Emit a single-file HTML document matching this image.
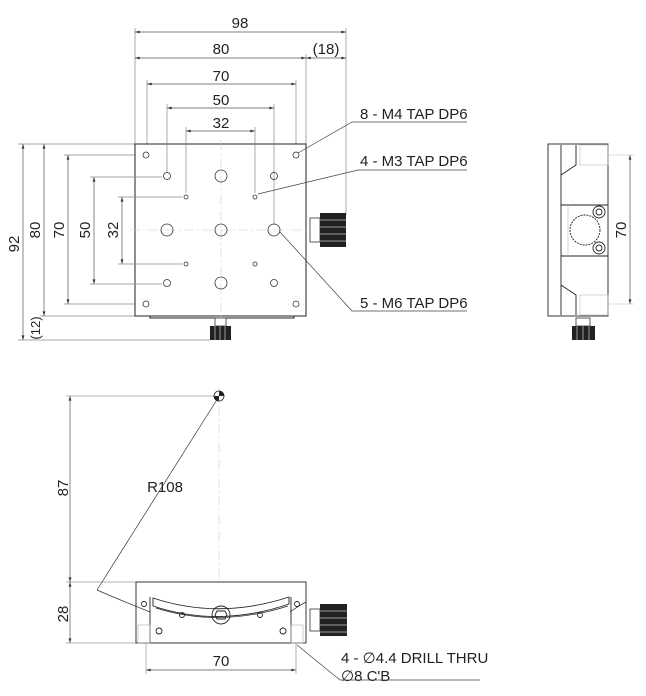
<!DOCTYPE html>
<html><head><meta charset="utf-8"><style>
html,body{margin:0;padding:0;background:#fff;}
svg{display:block;}
text{font-family:"Liberation Sans",sans-serif;fill:#222;}
</style></head><body>
<svg width="646" height="696" viewBox="0 0 646 696" xmlns="http://www.w3.org/2000/svg">
<defs>
<marker id="a" viewBox="0 0 10 6" refX="10" refY="3" markerWidth="7" markerHeight="4" orient="auto-start-reverse"><path d="M0,0L10,3L0,6z" fill="#333"/></marker>
</defs>
<g stroke="#888" stroke-width="0.7" fill="none">
<line x1="135" y1="28" x2="135" y2="144"/>
<line x1="346" y1="28" x2="346" y2="215"/>
<line x1="306" y1="54" x2="306" y2="144"/>
<line x1="147" y1="80" x2="147" y2="150"/>
<line x1="296" y1="80" x2="296" y2="150"/>
<line x1="18" y1="144" x2="135" y2="144"/>
<line x1="18" y1="340" x2="210" y2="340"/>
<line x1="40" y1="316" x2="135" y2="316"/>
<line x1="64" y1="155" x2="141" y2="155"/>
<line x1="64" y1="304" x2="141" y2="304"/>
</g>
<g stroke="#555" stroke-width="0.7" fill="none" marker-start="url(#a)" marker-end="url(#a)">
<line x1="135" y1="32" x2="346" y2="32"/>
<line x1="135" y1="58" x2="306" y2="58"/>
<line x1="306" y1="58" x2="346" y2="58"/>
<line x1="147" y1="84" x2="296" y2="84"/>
<line x1="167" y1="108" x2="274" y2="108"/>
<line x1="186" y1="131" x2="255" y2="131"/>
<line x1="23" y1="144" x2="23" y2="340"/>
<line x1="44" y1="144" x2="44" y2="316"/>
<line x1="68" y1="155" x2="68" y2="304"/>
<line x1="94" y1="177" x2="94" y2="284"/>
<line x1="122" y1="197" x2="122" y2="264"/>
<line x1="630" y1="155" x2="630" y2="304"/>
<line x1="70" y1="396" x2="70" y2="582"/>
<line x1="70" y1="582" x2="70" y2="643"/>
<line x1="146" y1="670" x2="296" y2="670"/>
</g>
<g font-size="15" text-anchor="middle">
<text x="240" y="28">98</text>
<text x="221" y="54">80</text>
<text x="326" y="54">(18)</text>
<text x="221" y="81">70</text>
<text x="221" y="105">50</text>
<text x="221" y="128">32</text>
<text transform="translate(19,244) rotate(-90)">92</text>
<text transform="translate(40,230) rotate(-90)">80</text>
<text transform="translate(64,230) rotate(-90)">70</text>
<text transform="translate(90,230) rotate(-90)">50</text>
<text transform="translate(118,230) rotate(-90)">32</text>
<text transform="translate(40,328) rotate(-90)" font-size="13">(12)</text>
<text transform="translate(626,230) rotate(-90)">70</text>
<text transform="translate(68,488) rotate(-90)">87</text>
<text transform="translate(68,614) rotate(-90)">28</text>
<text x="221" y="666">70</text>
<text x="165" y="492">R108</text>
</g>
<g font-size="15">
<text x="360" y="119">8 - M4 TAP DP6</text>
<text x="360" y="166">4 - M3 TAP DP6</text>
<text x="360" y="308">5 - M6 TAP DP6</text>
<text x="341" y="663">4 - ∅4.4 DRILL THRU</text>
<text x="341" y="681">∅8 C'B</text>
</g>
<!-- top view body -->
<g stroke="#222" stroke-width="1" fill="#fff">
<rect x="135" y="144" width="171" height="172"/>
<rect x="150" y="316" width="144" height="2"/>
</g>
<g stroke="#888" stroke-width="0.7" fill="none">
<line x1="167" y1="104" x2="167" y2="172"/>
<line x1="274" y1="104" x2="274" y2="225"/>
<line x1="186" y1="127" x2="186" y2="193"/>
<line x1="255" y1="127" x2="255" y2="193"/>
<line x1="90" y1="177" x2="162" y2="177"/>
<line x1="90" y1="284" x2="162" y2="284"/>
<line x1="118" y1="197" x2="182" y2="197"/>
<line x1="118" y1="264" x2="182" y2="264"/>
</g>
<g stroke="#ccc" stroke-width="0.6" stroke-dasharray="10,3,2,3" fill="none">
<line x1="221" y1="140" x2="221" y2="322"/>
<line x1="130" y1="230" x2="312" y2="230"/>
<line x1="219" y1="388" x2="219" y2="582"/>
</g>
<g stroke="#444" stroke-width="0.7" fill="none">
<polyline points="467,122 352,122 298,153"/>
<polyline points="467,170 358,170 258,194" />
<polyline points="467,311 352,311 280,232"/>
<polyline points="480,680 340,680 297,645"/>
</g>
<g stroke="#333" stroke-width="0.8" fill="none">
<circle cx="146" cy="155" r="3"/><circle cx="296" cy="155" r="3"/>
<circle cx="146" cy="304" r="3"/><circle cx="296" cy="304" r="3"/>
<circle cx="167" cy="176" r="3.5"/><circle cx="274" cy="176" r="3.5"/>
<circle cx="167" cy="283" r="3.5"/><circle cx="274" cy="283" r="3.5"/>
<circle cx="186" cy="197" r="2"/><circle cx="255" cy="197" r="2"/>
<circle cx="186" cy="264" r="2"/><circle cx="255" cy="264" r="2"/>
<circle cx="221" cy="176" r="6"/><circle cx="221" cy="283" r="6"/>
<circle cx="167" cy="230" r="6"/><circle cx="221" cy="230" r="6"/><circle cx="274" cy="230" r="6"/>
</g>
<!-- knobs -->
<g stroke="#333" stroke-width="0.8" fill="#fff">
<rect x="310" y="218" width="10" height="24"/>
<rect x="215" y="318" width="11" height="8"/>
<rect x="576" y="318" width="14" height="8"/>
<rect x="310" y="609" width="10" height="22"/>
</g>
<g fill="#222">
<rect x="320" y="213" width="26" height="34"/>
<rect x="210" y="326" width="21" height="14"/>
<rect x="572" y="326" width="23" height="14"/>
<rect x="320" y="604" width="27" height="32"/>
</g>
<g stroke="#999" stroke-width="1">
<line x1="320" y1="220" x2="346" y2="220"/><line x1="320" y1="227" x2="346" y2="227"/><line x1="320" y1="234" x2="346" y2="234"/><line x1="320" y1="241" x2="346" y2="241"/>
<line x1="320" y1="611" x2="347" y2="611"/><line x1="320" y1="618" x2="347" y2="618"/><line x1="320" y1="625" x2="347" y2="625"/><line x1="320" y1="632" x2="347" y2="632"/>
<line x1="215" y1="326" x2="215" y2="340"/><line x1="220" y1="326" x2="220" y2="340"/><line x1="225" y1="326" x2="225" y2="340"/>
<line x1="577" y1="326" x2="577" y2="340"/><line x1="583" y1="326" x2="583" y2="340"/><line x1="589" y1="326" x2="589" y2="340"/>
</g>
<!-- side view -->
<g stroke="#222" stroke-width="0.9" fill="none">
<rect x="548" y="144" width="60" height="172"/>
<line x1="561" y1="145" x2="561" y2="315"/>
<polyline points="576,145 576,165 561,175"/>
<polyline points="576,315 576,295 561,285"/>
<line x1="561" y1="205" x2="608" y2="205"/>
<line x1="561" y1="256" x2="608" y2="256"/>
<circle cx="585" cy="230" r="15" stroke-dasharray="2,1"/>
<circle cx="599" cy="212" r="6"/><circle cx="599" cy="212" r="3"/>
<circle cx="599" cy="248" r="6"/><circle cx="599" cy="248" r="3"/>
</g>
<g stroke="#bbb" stroke-width="0.6" fill="none">
<rect x="580" y="145" width="28" height="20"/>
<rect x="580" y="295" width="28" height="20"/>
<line x1="608" y1="155" x2="634" y2="155"/>
<line x1="608" y1="304" x2="634" y2="304"/>
<line x1="568" y1="205" x2="568" y2="256"/>
</g>
<!-- front view -->
<g stroke="#999" stroke-width="0.7" fill="none">
<line x1="66" y1="396" x2="214" y2="396"/>
<line x1="66" y1="582" x2="136" y2="582"/>
<line x1="66" y1="643" x2="136" y2="643"/>
<line x1="146" y1="643" x2="146" y2="674"/>
<line x1="296" y1="643" x2="296" y2="674"/>
</g>
<g stroke="#333" stroke-width="0.7" fill="none">
<line x1="218" y1="398" x2="97" y2="590"/>
<path d="M97,590 Q120,600 150,612"/>
<path d="M290,612 Q300,605 306,602"/>
</g>
<circle cx="219" cy="396" r="5" fill="#fff" stroke="#222" stroke-width="0.8"/>
<path d="M219,396 L219,391 A5,5 0 0 1 224,396 Z M219,396 L219,401 A5,5 0 0 1 214,396 Z" fill="#222"/>
<g stroke="#222" stroke-width="0.9" fill="none">
<rect x="136" y="582" width="170" height="61"/>
<line x1="150" y1="597" x2="150" y2="643"/>
<line x1="291" y1="597" x2="291" y2="643"/>
<path d="M153,598 Q219,620 289,597 L289,604 Q219,628 153,606 Z"/>
<path d="M156,608 Q219,628 288,606" stroke-width="0.7"/>
<circle cx="221" cy="615" r="9"/>
<polygon points="217,611 225,611 227,615 225,619 217,619 215,615"/>
<circle cx="144" cy="604" r="2.5"/><circle cx="297" cy="604" r="2.5"/>
<circle cx="182" cy="615" r="2.5"/><circle cx="260" cy="615" r="2.5"/>
<circle cx="159" cy="631" r="3"/><circle cx="283" cy="631" r="3"/>
</g>
<g stroke="#aaa" stroke-width="0.6" fill="none">
<rect x="138" y="625" width="12" height="18"/>
<rect x="291" y="625" width="12" height="18"/>
</g>
</svg>
</body></html>
